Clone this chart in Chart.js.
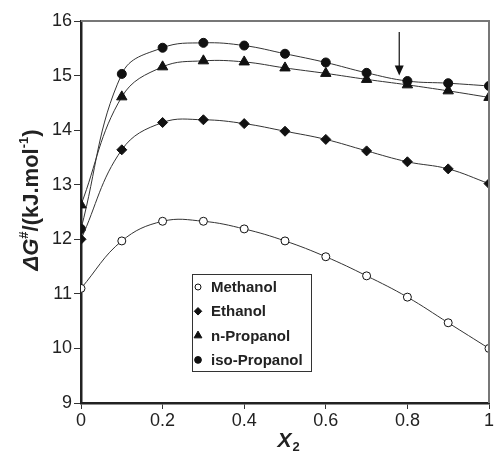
<!DOCTYPE html>
<html>
<head>
<meta charset="utf-8">
<script src="https://cdn.jsdelivr.net/npm/chart.js@4"></script>
<style>
  html, body { margin: 0; padding: 0; background: #fff; }
  #wrap { width: 496px; height: 453px; position: relative; }
</style>
</head>
<body>
<div id="wrap"><canvas id="myChart" width="496" height="453"></canvas></div>
<script>
// mole fraction of alcohol
const xVals = [0, 0.1, 0.2, 0.3, 0.4, 0.5, 0.6, 0.7, 0.8, 0.9, 1.0];

const methanol   = [11.10, 11.97, 12.33, 12.33, 12.19, 11.97, 11.68, 11.33, 10.94, 10.47, 10.00];
const ethanol    = [12.00, 13.64, 14.14, 14.19, 14.12, 13.98, 13.83, 13.62, 13.42, 13.29, 13.02];
const nPropanol  = [12.63, 14.61, 15.16, 15.27, 15.25, 15.14, 15.04, 14.93, 14.83, 14.72, 14.60];
const isoPropanol= [12.19, 15.03, 15.51, 15.60, 15.55, 15.40, 15.24, 15.05, 14.90, 14.86, 14.81];

const seriesNames = ['Methanol', 'Ethanol', 'n-Propanol', 'iso-Propanol'];
const xTicks = [0, 0.2, 0.4, 0.6, 0.8, 1];
const yTicks = [9, 10, 11, 12, 13, 14, 15, 16];

// arrow marking x2 ~ 0.78
const arrowX = 0.78;
const arrowFrom = 15.8;
const arrowTo = 15.0;

function pts(arr) {
  return arr.map((v, i) => ({ x: xVals[i], y: v }));
}

const styles = [
  { pointStyle: 'circle', radius: 4, fill: '#fff' },
  { pointStyle: 'rectRot', radius: 5, fill: '#111' },
  { pointStyle: 'triangle', radius: 6, fill: '#111' },
  { pointStyle: 'circle', radius: 4.5, fill: '#111' },
];

const datasets = [methanol, ethanol, nPropanol, isoPropanol].map((arr, i) => ({
  label: seriesNames[i],
  data: pts(arr),
  borderColor: '#333',
  borderWidth: 1,
  tension: 0.4,
  pointStyle: styles[i].pointStyle,
  pointRadius: styles[i].radius,
  pointBackgroundColor: styles[i].fill,
  pointBorderColor: '#111',
  pointBorderWidth: 1,
}));

const FONT = '"Liberation Sans", Arial, sans-serif';

const extras = {
  id: 'extras',
  afterDraw(chart) {
    const ctx = chart.ctx;
    const a = chart.chartArea;
    const xs = chart.scales.x, ys = chart.scales.y;
    ctx.save();

    // top and right frame in grey
    ctx.strokeStyle = '#777';
    ctx.lineWidth = 2;
    ctx.beginPath();
    ctx.moveTo(a.left, a.top);
    ctx.lineTo(a.right, a.top);
    ctx.lineTo(a.right, a.bottom);
    ctx.stroke();

    // arrow
    const ax = xs.getPixelForValue(arrowX);
    const ay1 = ys.getPixelForValue(arrowFrom);
    const ay2 = ys.getPixelForValue(arrowTo);
    ctx.strokeStyle = '#111';
    ctx.lineWidth = 1.2;
    ctx.beginPath();
    ctx.moveTo(ax, ay1);
    ctx.lineTo(ax, ay2 - 8);
    ctx.stroke();
    ctx.fillStyle = '#111';
    ctx.beginPath();
    ctx.moveTo(ax - 4.5, ay2 - 10);
    ctx.lineTo(ax + 4.5, ay2 - 10);
    ctx.lineTo(ax, ay2);
    ctx.closePath();
    ctx.fill();

    // legend box
    const lx = 192, ly = 274, lw = 119, lh = 97;
    ctx.fillStyle = '#fff';
    ctx.fillRect(lx, ly, lw, lh);
    ctx.strokeStyle = '#333';
    ctx.lineWidth = 1;
    ctx.strokeRect(lx + 0.5, ly + 0.5, lw, lh);
    ctx.font = 'bold 15px ' + FONT;
    ctx.textBaseline = 'middle';
    ctx.textAlign = 'left';
    chart.data.datasets.forEach((ds, i) => {
      const cy = ly + 13 + i * 24.3;
      ctx.fillStyle = ds.pointBackgroundColor;
      ctx.strokeStyle = '#111';
      Chart.helpers.drawPoint(ctx, {
        pointStyle: ds.pointStyle,
        radius: ds.pointRadius * 0.75,
        borderWidth: 1,
        rotation: 0
      }, lx + 6, cy);
      ctx.fillStyle = '#222';
      ctx.fillText(ds.label, lx + 19, cy + 1);
    });

    // y title
    ctx.fillStyle = '#222';
    ctx.translate(38, 200);
    ctx.rotate(-Math.PI / 2);
    const big = 'bold 22px ' + FONT;
    const bigIt = 'italic bold 22px ' + FONT;
    const small = 'bold 13px ' + FONT;
    const parts = [
      { t: 'ΔG', f: bigIt, dy: 0 },
      { t: '#', f: small, dy: -10 },
      { t: '/(kJ.mol', f: big, dy: 0 },
      { t: '-1', f: small, dy: -10 },
      { t: ')', f: big, dy: 0 },
    ];
    let total = 0;
    parts.forEach(p => { ctx.font = p.f; p.w = ctx.measureText(p.t).width; total += p.w; });
    let cx = -total / 2;
    ctx.textBaseline = 'alphabetic';
    parts.forEach(p => {
      ctx.font = p.f;
      ctx.fillText(p.t, cx, p.dy);
      cx += p.w;
    });
    ctx.restore();

    // x title
    ctx.save();
    ctx.fillStyle = '#222';
    ctx.textBaseline = 'alphabetic';
    ctx.font = 'italic bold 21px ' + FONT;
    const w1 = ctx.measureText('X').width;
    ctx.font = 'bold 13px ' + FONT;
    const w2 = ctx.measureText('2').width;
    const mid = (a.left + a.right) / 2 + 3;
    ctx.font = 'italic bold 21px ' + FONT;
    ctx.fillText('X', mid - (w1 + w2) / 2, 447);
    ctx.font = 'bold 13px ' + FONT;
    ctx.fillText('2', mid - (w1 + w2) / 2 + w1 + 1, 451);
    ctx.restore();
  }
};

const ctx = document.getElementById('myChart').getContext('2d');
const myChart = new Chart(ctx, {
  type: 'line',
  data: { datasets: datasets },
  options: {
    responsive: false,
    animation: false,
    layout: { padding: { top: 21, right: 4, left: 0, bottom: 0 } },
    plugins: { legend: { display: false }, tooltip: { enabled: false } },
    scales: {
      x: {
        type: 'linear',
        min: 0, max: 1,
        afterBuildTicks: s => { s.ticks = xTicks.map(v => ({ value: v })); },
        afterFit: s => { s.height = 50; s.paddingLeft = 0; s.paddingRight = 0; },
        grid: { drawOnChartArea: false, tickLength: 6, tickColor: '#333', tickWidth: 1 },
        border: { color: '#222', width: 2.5 },
        ticks: {
          color: '#222', padding: 1,
          font: { family: FONT, size: 18 },
          callback: v => String(v)
        }
      },
      y: {
        min: 9, max: 16,
        afterBuildTicks: s => { s.ticks = yTicks.map(v => ({ value: v })); },
        afterFit: s => { s.width = 81; },
        grid: { drawOnChartArea: false, tickLength: 7, tickColor: '#333', tickWidth: 1 },
        border: { color: '#222', width: 2.5 },
        ticks: {
          color: '#222', padding: 2,
          font: { family: FONT, size: 18 }
        }
      }
    }
  },
  plugins: [extras]
});
</script>
</body>
</html>
